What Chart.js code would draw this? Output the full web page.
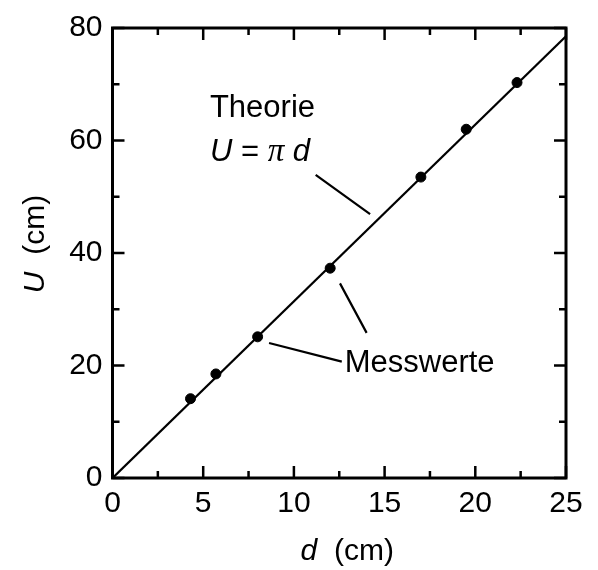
<!DOCTYPE html>
<html lang="de">
<head>
  <meta charset="UTF-8">
  <title>Umfang gegen Durchmesser</title>
  <script src="https://cdn.jsdelivr.net/npm/chart.js"></script>
  <style>
    html, body { margin: 0; padding: 0; background: #fff; }
    #wrap { width: 598px; height: 570px; }
  </style>
</head>
<body>
<div id="wrap">
  <canvas id="umfangChart" width="598" height="570"></canvas>
</div>
<script>
  // measured values (d in cm, U in cm)
  const messD = [4.3, 5.7, 8.0, 12.0, 17.0, 19.5, 22.3];
  const messU = [14.1, 18.5, 25.1, 37.3, 53.5, 62.0, 70.3];

  // theory line U = pi * d, endpoints
  const theorieD = [0, 25];
  const theorieU = [0, 78.54];

  const xTicks = [0, 5, 10, 15, 20, 25];
  const yTicks = [0, 20, 40, 60, 80];

  const SANS = '"Liberation Sans", Arial, Helvetica, sans-serif';
  const SERIF = '"Liberation Serif", "Times New Roman", serif';

  // label and leader-line placement, in data units
  const textTheorie = { d: 5.37, U: 64.1 };
  const textFormel = { d: 5.37, U: 56.3 };
  const textMess = { d: 12.8, U: 18.9 };
  const leaders = [
    [[11.2, 53.9], [14.2, 46.9]],
    [[8.63, 24.0], [12.64, 20.7]],
    [[12.54, 34.6], [14.01, 25.8]]
  ];

  const frame = {
    id: 'frame',
    afterDatasetsDraw(chart) {
      const ctx = chart.ctx;
      const a = chart.chartArea;
      const xs = chart.scales.x;
      const ys = chart.scales.y;
      ctx.save();
      ctx.strokeStyle = '#000';
      ctx.lineWidth = 2.5;
      ctx.lineCap = 'butt';

      // inward ticks on all four sides
      ctx.beginPath();
      for (let v = 0; v <= 25; v += 2.5) {
        const len = (v % 5 === 0) ? 12 : 7;
        const px = xs.getPixelForValue(v);
        ctx.moveTo(px, a.bottom); ctx.lineTo(px, a.bottom - len);
        ctx.moveTo(px, a.top); ctx.lineTo(px, a.top + len);
      }
      for (let v = 0; v <= 80; v += 10) {
        const len = (v % 20 === 0) ? 12 : 7;
        const py = ys.getPixelForValue(v);
        ctx.moveTo(a.left, py); ctx.lineTo(a.left + len, py);
        ctx.moveTo(a.right, py); ctx.lineTo(a.right - len, py);
      }
      ctx.stroke();

      ctx.lineWidth = 3;
      ctx.strokeRect(a.left, a.top, a.right - a.left, a.bottom - a.top);

      // leader lines
      ctx.lineWidth = 2.2;
      ctx.beginPath();
      leaders.forEach(l => {
        ctx.moveTo(xs.getPixelForValue(l[0][0]), ys.getPixelForValue(l[0][1]));
        ctx.lineTo(xs.getPixelForValue(l[1][0]), ys.getPixelForValue(l[1][1]));
      });
      ctx.stroke();

      // annotation text
      ctx.fillStyle = '#000';
      ctx.textBaseline = 'alphabetic';
      ctx.textAlign = 'left';
      ctx.font = '31px ' + SANS;
      ctx.fillText('Theorie', xs.getPixelForValue(textTheorie.d), ys.getPixelForValue(textTheorie.U));
      ctx.fillText('Messwerte', xs.getPixelForValue(textMess.d), ys.getPixelForValue(textMess.U));

      let fx = xs.getPixelForValue(textFormel.d);
      const fy = ys.getPixelForValue(textFormel.U);
      const parts = [
        ['U', 'italic 31px ' + SANS],
        [' = ', '31px ' + SANS],
        ['\u03C0', 'italic 33px ' + SERIF],
        [' ', '31px ' + SANS],
        ['d', 'italic 31px ' + SANS]
      ];
      parts.forEach(p => {
        ctx.font = p[1];
        ctx.fillText(p[0], fx, fy);
        fx += ctx.measureText(p[0]).width;
      });

      // axis titles
      const cx = (a.left + a.right) / 2;
      ctx.font = 'italic 30px ' + SANS;
      const wd = ctx.measureText('d').width;
      ctx.font = '30px ' + SANS;
      const wRest = ctx.measureText('  (cm)').width;
      let tx = cx + 8 - (wd + wRest) / 2;
      ctx.font = 'italic 30px ' + SANS;
      ctx.fillText('d', tx, 560);
      ctx.font = '30px ' + SANS;
      ctx.fillText('  (cm)', tx + wd, 560);

      ctx.translate(44, (a.top + a.bottom) / 2 - 9);
      ctx.rotate(-Math.PI / 2);
      ctx.font = 'italic 30px ' + SANS;
      const wu = ctx.measureText('U').width;
      ctx.font = '30px ' + SANS;
      const wr = ctx.measureText('  (cm)').width;
      tx = -(wu + wr) / 2;
      ctx.font = 'italic 30px ' + SANS;
      ctx.fillText('U', tx, 0);
      ctx.font = '30px ' + SANS;
      ctx.fillText('  (cm)', tx + wu, 0);
      ctx.restore();
    }
  };

  const ctx = document.getElementById('umfangChart').getContext('2d');
  const chart = new Chart(ctx, {
    type: 'scatter',
    data: {
      datasets: [
        {
          label: 'Messwerte',
          data: messD.map((d, i) => ({ x: d, y: messU[i] })),
          backgroundColor: '#000',
          borderColor: '#000',
          pointRadius: 5,
          pointHoverRadius: 5,
          showLine: false
        },
        {
          label: 'Theorie',
          data: theorieD.map((d, i) => ({ x: d, y: theorieU[i] })),
          borderColor: '#000',
          borderWidth: 2.3,
          pointRadius: 0,
          showLine: true,
          fill: false
        }
      ]
    },
    options: {
      responsive: false,
      animation: false,
      layout: { padding: { left: 0, right: 32, top: 25, bottom: 0 } },
      plugins: {
        legend: { display: false },
        tooltip: { enabled: false }
      },
      scales: {
        x: {
          type: 'linear',
          min: 0,
          max: 25,
          afterFit: s => { s.height = 92; },
          afterBuildTicks: s => { s.ticks = xTicks.map(v => ({ value: v })); },
          grid: { display: false, drawTicks: false },
          border: { display: false },
          ticks: {
            padding: 8,
            color: '#000',
            font: { family: SANS, size: 30 },
            maxRotation: 0
          }
        },
        y: {
          type: 'linear',
          min: 0,
          max: 80,
          afterFit: s => { s.width = 112.5; },
          afterBuildTicks: s => { s.ticks = yTicks.map(v => ({ value: v })); },
          grid: { display: false, drawTicks: false },
          border: { display: false },
          ticks: {
            padding: 10,
            color: '#000',
            font: { family: SANS, size: 30 }
          }
        }
      }
    },
    plugins: [frame]
  });
</script>
</body>
</html>
